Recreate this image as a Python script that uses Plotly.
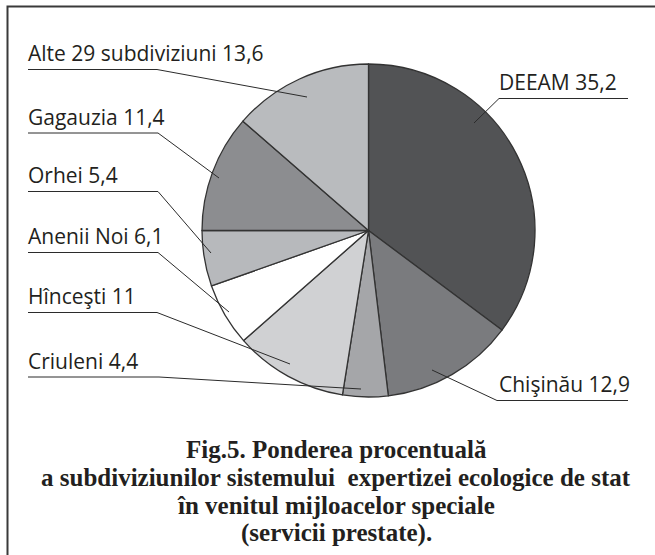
import plotly.graph_objects as go

# ---- data ----
categories = ["DEEAM", "Chişinău", "Criuleni", "Hînceşti", "Anenii Noi", "Orhei", "Gagauzia", "Alte 29 subdiviziuni"]
values = [35.2, 12.9, 4.4, 11, 6.1, 5.4, 11.4, 13.6]
colors = ["#525355", "#7a7b7e", "#a5a6a9", "#d0d1d3", "#ffffff", "#b7b9bc", "#8c8d90", "#b9bbbe"]
caption_lines = [
    "Fig.5. Ponderea procentuală",
    "a subdiviziunilor sistemului \u00a0expertizei ecologice de stat",
    "în venitul mijloacelor speciale",
    "(servicii prestate).",
]

W, H = 655, 555
# pie geometry in pixels
cx, cy, r = 368.5, 230.5, 166.5

def px(x):
    return x / W

def py(y):
    return 1 - y / H

# label layout (pixel positions): text x, underline y, underline x range, leader end point
label_layout = {
    "DEEAM": dict(tx=499, uy=98.5, ux0=628, ux1=499, ex=474, ey=123),
    "Chişinău": dict(tx=499, uy=400.5, ux0=628, ux1=497, ex=432, ey=370),
    "Criuleni": dict(tx=28, uy=377, ux0=28, ux1=159, ex=361, ey=389),
    "Hînceşti": dict(tx=28, uy=312.5, ux0=28, ux1=157, ex=290, ey=364),
    "Anenii Noi": dict(tx=28, uy=252.5, ux0=28, ux1=158, ex=229, ey=312),
    "Orhei": dict(tx=28, uy=191.5, ux0=28, ux1=158, ex=211, ey=253),
    "Gagauzia": dict(tx=28, uy=133, ux0=28, ux1=158, ex=219, ey=178),
    "Alte 29 subdiviziuni": dict(tx=28, uy=69.5, ux0=28, ux1=157, ex=307, ey=97),
}
label_size = 21
caption_size = 25
caption_step = 1.112 * caption_size
caption_mid = 499.8
caption_cx = 336

def fmt(v):
    return ("%g" % v).replace(".", ",")

fig = go.Figure()
fig.add_trace(go.Pie(
    labels=categories,
    values=values,
    sort=False,
    direction="clockwise",
    rotation=0,
    textinfo="none",
    hoverinfo="label+value",
    marker=dict(colors=colors, line=dict(color="#333333", width=1.3)),
    domain=dict(x=[px(cx - r), px(cx + r)], y=[py(cy + r), py(cy - r)]),
    showlegend=False,
))

shapes = []
annotations = []
line_col = "#2b2b2b"
for cat, val in zip(categories, values):
    L = label_layout[cat]
    shapes.append(dict(type="line", xref="paper", yref="paper",
                       x0=px(L["ux0"]), y0=py(L["uy"]), x1=px(L["ux1"]), y1=py(L["uy"]),
                       line=dict(color=line_col, width=1)))
    shapes.append(dict(type="line", xref="paper", yref="paper",
                       x0=px(L["ux1"]), y0=py(L["uy"]), x1=px(L["ex"]), y1=py(L["ey"]),
                       line=dict(color=line_col, width=1)))
    baseline = L["uy"] - 8
    annotations.append(dict(
        text=f"{cat} {fmt(val)}", xref="paper", yref="paper",
        x=px(L["tx"] - 1), y=py(baseline - 0.388 * label_size), xanchor="left", yanchor="middle",
        showarrow=False, borderpad=0,
        font=dict(family="Open Sans", size=label_size, color="#231f20"),
    ))

# frame
shapes.append(dict(type="path", xref="paper", yref="paper",
                   path=f"M {px(7.5)} {py(560)} L {px(7.5)} {py(6.5)} L {px(660)} {py(6.5)}",
                   line=dict(color="#3a3a3a", width=2)))

n = len(caption_lines)
for i, line in enumerate(caption_lines):
    bl = caption_mid + (i - (n - 1) / 2) * caption_step
    annotations.append(dict(
        text="<b>" + line + "</b>", xref="paper", yref="paper",
        x=px(caption_cx), y=py(bl - 0.3375 * caption_size), xanchor="center", yanchor="middle",
        showarrow=False, borderpad=0,
        font=dict(family="Liberation Serif", size=caption_size, color="#231f20"),
    ))

fig.update_layout(
    width=W, height=H,
    margin=dict(l=0, r=0, t=0, b=0),
    paper_bgcolor="white", plot_bgcolor="white",
    shapes=shapes, annotations=annotations,
)

fig.write_html("out.html", config={"displayModeBar": False},
               post_script="document.body.style.margin='0';document.body.style.overflow='hidden';")
